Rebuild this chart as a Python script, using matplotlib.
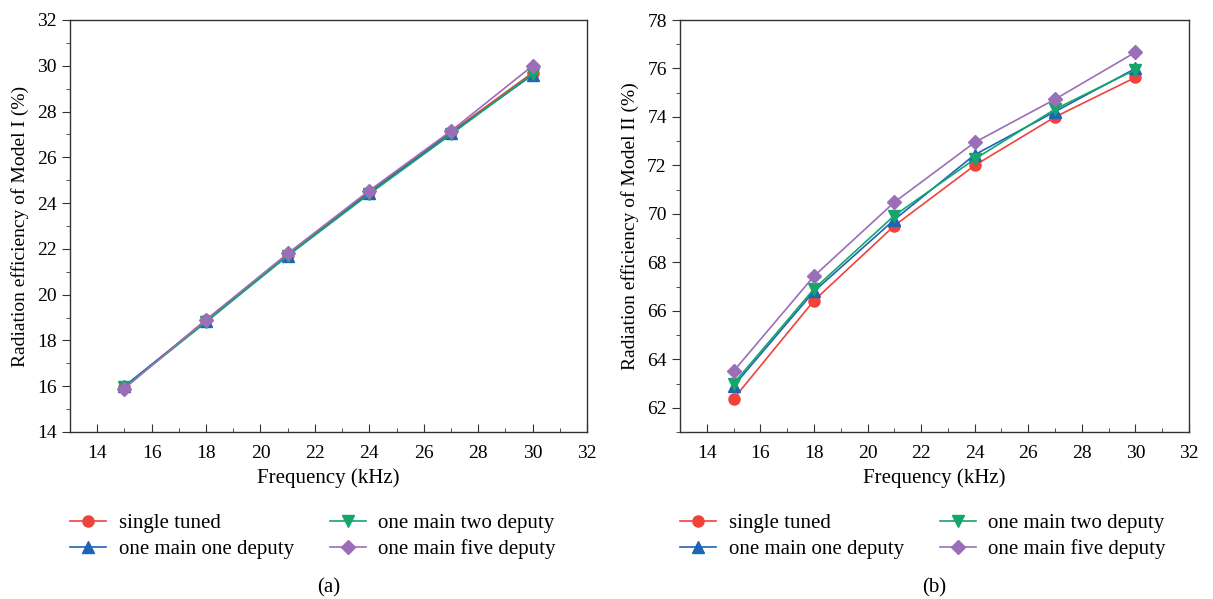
import matplotlib
matplotlib.use("Agg")
import matplotlib.pyplot as plt
from matplotlib.ticker import MultipleLocator

plt.rcParams['font.family'] = ['Liberation Serif', 'DejaVu Serif']

freq = [15, 18, 21, 24, 27, 30]
labels = ["single tuned", "one main one deputy", "one main two deputy", "one main five deputy"]

# Model I
m1_single = [15.95, 18.90, 21.75, 24.50, 27.10, 29.70]
m1_one = [16.00, 18.85, 21.70, 24.45, 27.05, 29.60]
m1_two = [15.95, 18.80, 21.70, 24.40, 27.00, 29.65]
m1_five = [15.90, 18.90, 21.80, 24.55, 27.15, 30.00]

# Model II
m2_single = [62.37, 66.42, 69.51, 72.00, 74.00, 75.63]
m2_one = [62.90, 66.80, 69.76, 72.44, 74.22, 76.00]
m2_two = [63.00, 66.90, 69.93, 72.26, 74.32, 75.95]
m2_five = [63.51, 67.43, 70.48, 72.95, 74.73, 76.67]

colors = ["#f0433a", "#1f65b5", "#14a66b", "#9b6fb8"]
markers = ["o", "^", "v", "D"]
msizes = [8, 8, 8, 7]

fig = plt.figure(figsize=(12.13, 5.99), dpi=100)
ax1 = fig.add_axes([70/1213, 1-432/599, (587-70)/1213, (432-20)/599])
ax2 = fig.add_axes([680/1213, 1-432/599, (1189-680)/1213, (432-20)/599])

def draw(ax, series, ylim, ylabel, tag):
    for s, c, m, ms, lab in zip(series, colors, markers, msizes, labels):
        ax.plot(freq, s, color=c, marker=m, markersize=ms, linewidth=1.2, label=lab)
    ax.set_xlim(13, 32)
    ax.set_ylim(*ylim)
    ax.xaxis.set_major_locator(MultipleLocator(2))
    ax.xaxis.set_minor_locator(MultipleLocator(1))
    ax.yaxis.set_major_locator(MultipleLocator(2))
    ax.yaxis.set_minor_locator(MultipleLocator(1))
    ax.tick_params(axis='x', which='both', direction='in', labelsize=14, color='#333333', pad=9)
    ax.tick_params(axis='x', which='major', length=6)
    ax.tick_params(axis='x', which='minor', length=3)
    ax.tick_params(axis='y', which='both', direction='out', labelsize=14, color='#333333')
    ax.tick_params(axis='y', which='major', length=6)
    ax.tick_params(axis='y', which='minor', length=3)
    for sp in ax.spines.values():
        sp.set_color('#333333')
        sp.set_linewidth(1.0)
    ax.set_xlabel("Frequency (kHz)", fontsize=15, labelpad=5)
    ax.set_ylabel(ylabel, fontsize=14, labelpad=6)
    ax.legend(loc='upper left', bbox_to_anchor=(0.0, -0.198), ncol=2, frameon=False,
              fontsize=15, handlelength=1.75, columnspacing=1.7, labelspacing=0.3,
              handletextpad=0.6, borderpad=0, borderaxespad=0)
    ax.text(0.5, -0.378, tag, transform=ax.transAxes, ha='center', va='center', fontsize=15)

draw(ax1, [m1_single, m1_one, m1_two, m1_five], (14, 32), "Radiation efficiency of Model I (%)", "(a)")
draw(ax2, [m2_single, m2_one, m2_two, m2_five], (61, 78), "Radiation efficiency of Model II (%)", "(b)")

fig.savefig("out.png", dpi=100)
